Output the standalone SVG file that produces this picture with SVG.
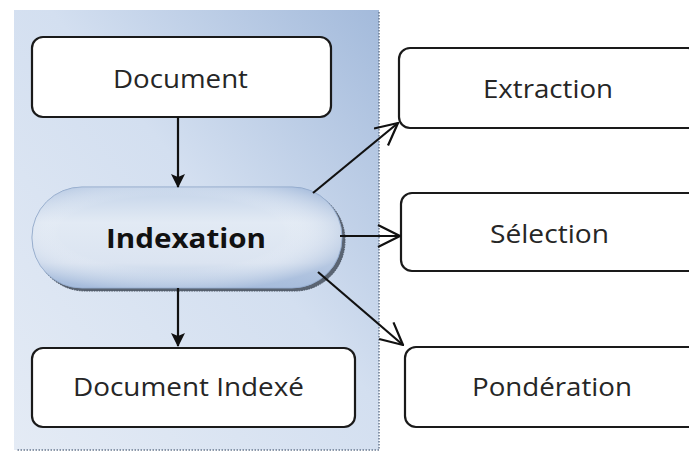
<svg xmlns="http://www.w3.org/2000/svg" width="689" height="452" viewBox="0 0 689 452">
<defs>
<linearGradient id="panelG" x1="0" y1="1" x2="1" y2="0">
<stop offset="0" stop-color="#e4ebf5"/>
<stop offset="0.55" stop-color="#d3dff0"/>
<stop offset="1" stop-color="#a3badb"/>
</linearGradient>
<linearGradient id="pillG" x1="0" y1="0" x2="0" y2="1">
<stop offset="0" stop-color="#c3d3e9"/>
<stop offset="0.35" stop-color="#e2eaf4"/>
<stop offset="0.75" stop-color="#dbe4f1"/>
<stop offset="1" stop-color="#b2c6e2"/>
</linearGradient>
<radialGradient id="pillR" cx="0.45" cy="0.45" r="0.6">
<stop offset="0.6" stop-color="#ffffff" stop-opacity="0"/>
<stop offset="1" stop-color="#9fb6d8" stop-opacity="0.6"/>
</radialGradient>
<marker id="fill" viewBox="0 0 14 14" refX="13" refY="7" markerWidth="14" markerHeight="14" markerUnits="userSpaceOnUse" orient="auto">
<path d="M0,0 L14,7 L0,14 L3,7 Z" fill="#111"/>
</marker>
<marker id="open" viewBox="0 0 24 24" refX="23" refY="12" markerWidth="24" markerHeight="24" markerUnits="userSpaceOnUse" orient="auto">
<path d="M1,1 L23,12 L1,23" fill="none" stroke="#111" stroke-width="2.2"/>
</marker>
</defs>
<style>
.box{fill:#fff;stroke:#1a1a1a;stroke-width:2.2}
.lbl{font-family:"Open Sans","Liberation Sans",Arial,sans-serif;font-size:26px;fill:#262626;text-anchor:middle}
.bold{font-weight:bold;fill:#111}
.conn{stroke:#111;stroke-width:2.2;fill:none}
</style>
<rect width="689" height="452" fill="#fff"/>
<g id="panel">
<rect x="14" y="10" width="365" height="440" fill="url(#panelG)"/>
<path d="M379,12 V450 H16" fill="none" stroke="#6a7a90" stroke-width="1.5" stroke-dasharray="1.5,1.5"/>
</g>
<g id="document">
<rect class="box" x="32" y="37" width="299" height="80" rx="11"/>
<text class="lbl" x="180.5" y="88" textLength="135" lengthAdjust="spacingAndGlyphs">Document</text>
</g>
<g id="indexation">
<rect x="35" y="190" width="310" height="101" rx="50" fill="#5a6472" stroke="#4a5462" stroke-width="1" stroke-dasharray="1.5,1"/>
<rect x="32" y="187" width="310" height="101" rx="50" fill="url(#pillG)" stroke="#8ea6c8" stroke-width="1"/>
<rect x="32" y="187" width="310" height="101" rx="50" fill="url(#pillR)"/>
<text class="lbl bold" x="186" y="248" textLength="160" lengthAdjust="spacingAndGlyphs">Indexation</text>
</g>
<g id="document-indexe">
<rect class="box" x="32" y="348" width="323" height="79" rx="11"/>
<text class="lbl" x="188.5" y="396" textLength="231" lengthAdjust="spacingAndGlyphs">Document Indexé</text>
</g>
<g id="extraction">
<rect class="box" x="399" y="48" width="300" height="80" rx="11"/>
<text class="lbl" x="548" y="98" textLength="130" lengthAdjust="spacingAndGlyphs">Extraction</text>
</g>
<g id="selection">
<rect class="box" x="401" y="193" width="300" height="78" rx="11"/>
<text class="lbl" x="549.5" y="243" textLength="119" lengthAdjust="spacingAndGlyphs">Sélection</text>
</g>
<g id="ponderation">
<rect class="box" x="405" y="347" width="300" height="80" rx="11"/>
<text class="lbl" x="552" y="396" textLength="160" lengthAdjust="spacingAndGlyphs">Pondération</text>
</g>
<g id="connectors">
<line class="conn" x1="178" y1="117" x2="178" y2="187" marker-end="url(#fill)"/>
<line class="conn" x1="178" y1="288" x2="178" y2="346" marker-end="url(#fill)"/>
<line class="conn" x1="313" y1="193" x2="398" y2="123" marker-end="url(#open)"/>
<line class="conn" x1="340" y1="236" x2="400" y2="236" marker-end="url(#open)"/>
<line class="conn" x1="318" y1="272" x2="403" y2="345" marker-end="url(#open)"/>
</g>
</svg>
